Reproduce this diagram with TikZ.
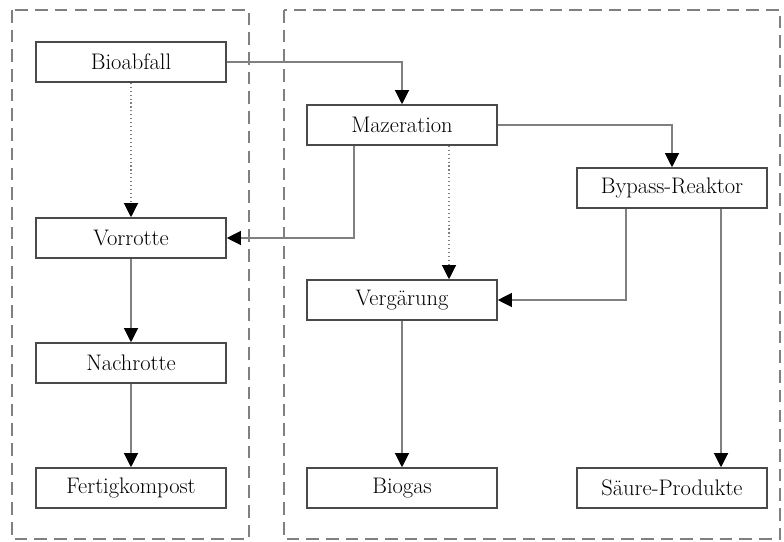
\documentclass[tikz,border=0pt]{standalone}
\usepackage{tikz}
\usetikzlibrary{arrows.meta,calc}

\definecolor{boxgray}{HTML}{4A4A4A}
\definecolor{linegray}{HTML}{808080}

\tikzset{
  stage/.style={draw=boxgray, line width=1.1pt, fill=white, minimum width=4.75cm,
    minimum height=1cm, inner sep=0pt, font=\fontsize{16}{19}\selectfont},
  flow/.style={draw=linegray, line width=0.8pt,
    -{Triangle[length=10pt,width=10pt,fill=black,color=black]}},
  flowdot/.style={flow, dotted},
  zone/.style={draw=linegray, line width=1.2pt, dash pattern=on 9pt off 5pt}
}

\begin{document}
\begin{tikzpicture}[x=0.025cm, y=-0.025cm]
            \useasboundingbox (0,0) rectangle (784,541);

            % two areas
            \draw[zone] (12,10) rectangle (249,539);
            \draw[zone] (284,10) rectangle (780,539);

            % composting line
            \node[stage] (bio) at (131,62) {Bioabfall};
            \node[stage] (vor) at (131,238) {Vorrotte};
            \node[stage] (nach) at (131,363) {Nachrotte};
            \node[stage] (fertig) at (131,488) {Fertigkompost};

            % fermentation line
            \node[stage] (maz) at (402,125) {Mazeration};
            \node[stage] (bypass) at (672,188) {Bypass-Reaktor};
            \node[stage] (verg) at (402,300) {Vergärung};
            \node[stage] (biogas) at (402,488) {Biogas};
            \node[stage] (saeure) at (672,488) {Säure-Produkte};

            \draw[flow] (bio.east) -| (maz.north); % bio-maz
            \draw[flowdot] (bio.south) -- (vor.north); % bio-vor
            \draw[flow] (maz.east) -| (bypass.north); % maz-bypass
            \draw[flow] ($(maz.south)+(-48,0)$) |- (vor.east); % maz-vor
            \draw[flowdot] ($(maz.south)+(47,0)$) -- ($(verg.north)+(47,0)$); % maz-verg
            \draw[flow] ($(bypass.south)+(-46,0)$) |- (verg.east); % bypass-verg
            \draw[flow] ($(bypass.south)+(49,0)$) -- ($(saeure.north)+(49,0)$); % bypass-saeure
            \draw[flow] (verg.south) -- (biogas.north); % verg-biogas
            \draw[flow] (vor.south) -- (nach.north); % vor-nach
            \draw[flow] (nach.south) -- (fertig.north); % nach-fertig
        \end{tikzpicture}
\end{document}
